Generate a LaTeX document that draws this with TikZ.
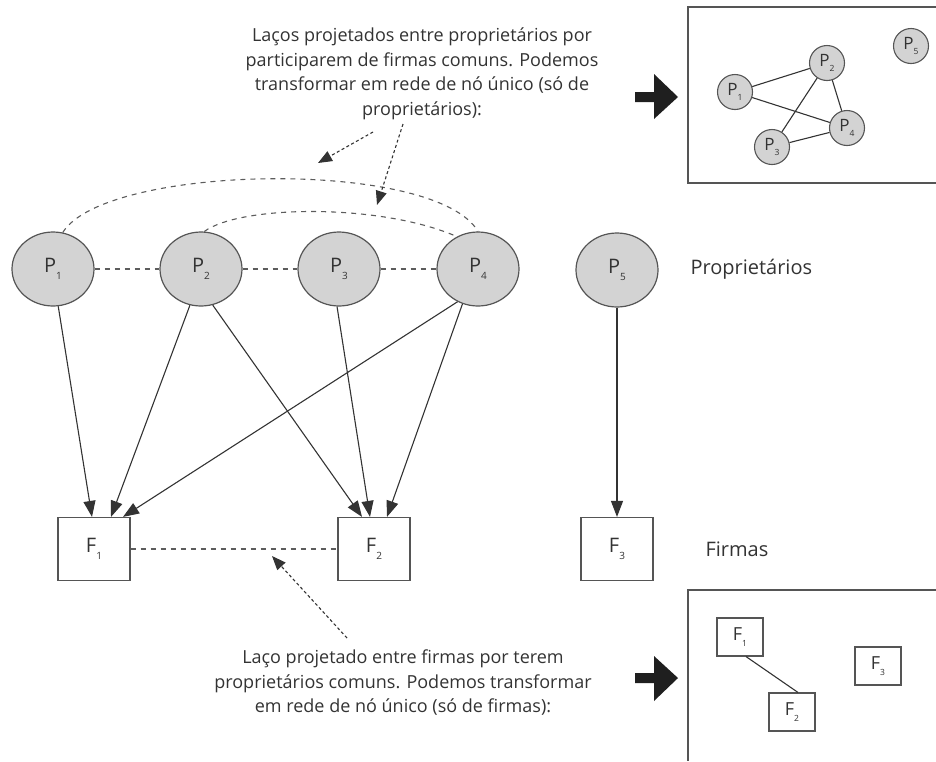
\documentclass[tikz,border=0pt]{standalone}
\usepackage{fontspec}
\setmainfont{Open Sans}
\usetikzlibrary{arrows.meta,shapes.geometric,calc}
\definecolor{ink}{HTML}{333333}
\definecolor{rim}{HTML}{555555}
\definecolor{nodefill}{HTML}{D3D3D3}
\newcommand\lowidx[1]{\raisebox{-0.6ex}{\fontsize{10}{10}\selectfont #1}}
\newcommand\tinyidx[1]{\raisebox{-0.6ex}{\fontsize{8.5}{8.5}\selectfont #1}}

\begin{document}
\begin{tikzpicture}[x=1pt,y=-1pt,
  owner/.style={ellipse, draw=rim, fill=nodefill, line width=1.2pt,
    minimum width=82pt, minimum height=74pt, inner sep=0pt,
    font=\fontsize{20}{20}\selectfont, text=ink},
  firm/.style={rectangle, draw=rim, fill=white, line width=1.2pt,
    minimum width=72pt, minimum height=63pt, inner sep=0pt,
    font=\fontsize{20}{20}\selectfont, text=ink},
  mini owner/.style={circle, draw=rim, fill=nodefill, line width=1.1pt,
    minimum size=35pt, inner sep=0pt, font=\fontsize{17}{17}\selectfont, text=ink},
  mini firm/.style={rectangle, draw=rim, fill=white, line width=1.1pt,
    minimum width=46pt, minimum height=38pt, inner sep=0pt,
    font=\fontsize{18}{18}\selectfont, text=ink},
  tie/.style={draw=ink, line width=1.1pt, -{Triangle[length=16pt,width=12pt]}},
  proj/.style={draw=ink!80, line width=1.1pt, dash pattern=on 5pt off 5pt},
  note/.style={draw=ink, line width=1.1pt, dash pattern=on 3pt off 2.5pt,
    -{Triangle[length=14pt,width=11pt]}},
  mini tie/.style={draw=ink, line width=1.1pt},
  caption/.style={align=center, text=ink, font=\fontsize{18}{24.5}\selectfont},
  side label/.style={anchor=west, text=ink, font=\fontsize{20}{20}\selectfont},
  frame/.style={draw=rim, line width=1.5pt}]

\useasboundingbox (0,0) rectangle (936,761);

% owners (top row) and firms (bottom row)
\node[owner] (P1) at (53,269)  {P\lowidx{1}};
\node[owner] (P2) at (201,269) {P\lowidx{2}};
\node[owner] (P3) at (339,269) {P\lowidx{3}};
\node[owner] (P4) at (478,269) {P\lowidx{4}};
\node[owner] (P5) at (617,270) {P\lowidx{5}};

\node[firm] (F1) at (94,549)  {F\lowidx{1}};
\node[firm] (F2) at (374,549) {F\lowidx{2}};
\node[firm] (F3) at (617,549) {F\lowidx{3}};

\node[side label] (lblP) at (687,269) {Proprietários};
\node[side label] (lblF) at (702,549) {Firmas};

% ownership ties
\draw[tie] (P1.278) -- ([xshift=-2pt]F1.north);
\draw[tie] (P2.253) -- ([xshift=17pt]F1.north);
\draw[tie] (P4.238) -- ([xshift=29pt]F1.north);
\draw[tie] (P2.288) -- ([xshift=-12pt]F2.north);
\draw[tie] (P3.267) -- ([xshift=-4pt]F2.north);
\draw[tie] (P4.246) -- ([xshift=13pt]F2.north);
\draw[tie] (P5.south) -- (F3.north);

% projected ties among owners
\draw[proj] (P1.east) -- (P2.west);
\draw[proj] (P2.east) -- (P3.west);
\draw[proj] (P3.east) -- (P4.west);
\draw[proj] (P1.75) .. controls (105,164) and (435,158) .. (P4.north);
\draw[proj] (P2.85) .. controls (240,205) and (380,203) .. (P4.123);

% projected tie between firms
\draw[proj] (F1.east) -- (F2.west);

% explanatory notes
\node[caption] (topnote) at (422,74)
  {Laços projetados entre proprietários por\\
   participarem de firmas comuns. Podemos\\
   transformar em rede de nó único (só de\\
   proprietários):};
\node[caption] (botnote) at (403,683)
  {Laço projetado entre firmas por terem\\
   proprietários comuns. Podemos transformar\\
   em rede de nó único (só de firmas):};

\coordinate (n1tail) at (373,132);
\coordinate (n1tip)  at (318,163);
\coordinate (n2tail) at (403,124);
\coordinate (n2tip)  at (377,205);
\coordinate (n3tail) at (347,638);
\coordinate (n3tip)  at (272,556);
\draw[note] (n1tail) -- (n1tip);
\draw[note] (n2tail) -- (n2tip);
\draw[note] (n3tail) -- (n3tip);

% bold pointers to the one-mode networks
\fill[black!88] (635,92) -- (654,92) -- (654,74) -- (678,97) -- (654,119)
  -- (654,102) -- (635,102) -- cycle;
\fill[black!88] (635,673) -- (654,673) -- (654,656) -- (678,678) -- (654,701)
  -- (654,683) -- (635,683) -- cycle;

% one-mode network of owners
\draw[frame] (936,7) -- (688,7) -- (688,183) -- (936,183);
\node[mini owner] (m1) at (735,92)  {P\tinyidx{1}};
\node[mini owner] (m2) at (827,63)  {P\tinyidx{2}};
\node[mini owner] (m3) at (772,147) {P\tinyidx{3}};
\node[mini owner] (m4) at (847,128) {P\tinyidx{4}};
\node[mini owner] (m5) at (911,46)  {P\tinyidx{5}};
\draw[mini tie] (m1) -- (m2);
\draw[mini tie] (m1) -- (m4);
\draw[mini tie] (m2) -- (m3);
\draw[mini tie] (m2) -- (m4);
\draw[mini tie] (m3) -- (m4);

% one-mode network of firms
\draw[frame] (936,590) -- (688,590) -- (688,761);
\node[mini firm] (g1) at (740,637) {F\tinyidx{1}};
\node[mini firm] (g2) at (792,712) {F\tinyidx{2}};
\node[mini firm] (g3) at (878,666) {F\tinyidx{3}};
\draw[mini tie] ([xshift=6pt]g1.south) -- ([xshift=6pt]g2.north);

\end{tikzpicture}
\end{document}
